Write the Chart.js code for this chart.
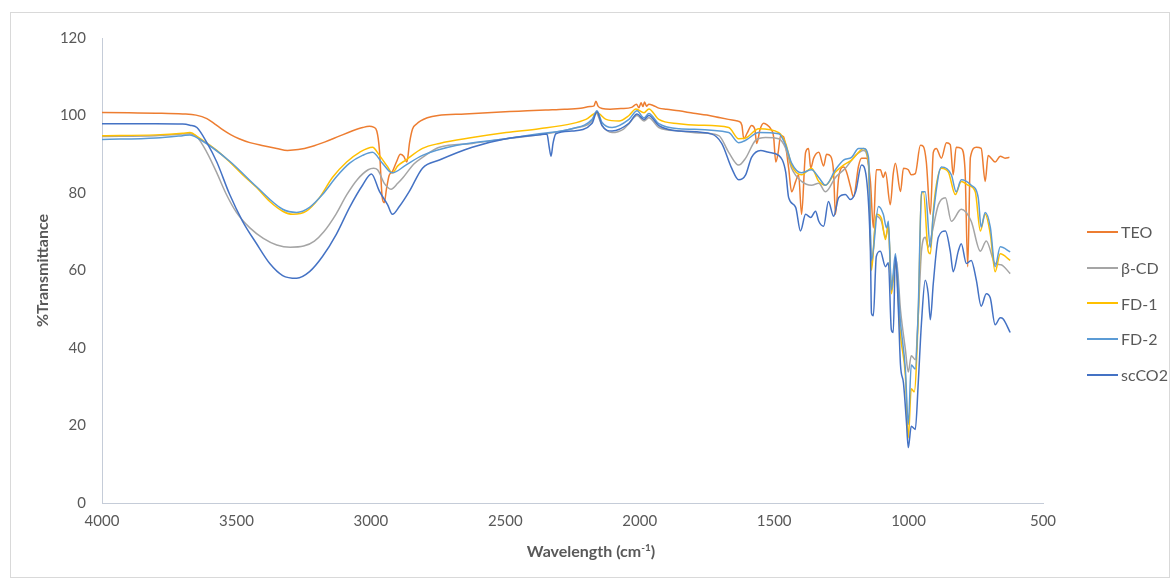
<!DOCTYPE html>
<html>
<head>
<meta charset="utf-8">
<script src="https://cdn.jsdelivr.net/npm/chart.js@4.4.1/dist/chart.umd.min.js"></script>
<style>
    body { margin: 0; background: #fff; font-family: Lato, "Open Sans", sans-serif; }
    #frame { position: absolute; left: 10px; top: 12px; width: 1160px; height: 566px; border: 1px solid #d9d9d9; box-sizing: border-box; }
    #wrap { position: absolute; left: 0; top: 0; width: 1158px; height: 564px; }
    #legend { position: absolute; left: 1076px; top: 201px; list-style: none; margin: 0; padding: 0; color: #595959; font-size: 16px; }
    #legend li { height: 35.7px; display: flex; align-items: center; }
    #legend .line { display: inline-block; width: 31px; height: 2px; margin-right: 3px; }
    #xTitle { position: absolute; left: 430px; width: 300px; top: 528px; text-align: center; color: #595959; font-size: 16px; font-weight: bold; line-height: 20px; }
    #xTitle sup { font-size: 10px; line-height: 0; }
</style>
</head>
<body>
<div id="frame">
    <div id="wrap"><canvas id="ftirChart"></canvas></div>
    <ul id="legend"></ul>
    <div id="xTitle">Wavelength (cm<sup>-1</sup>)</div>
</div>
<script>
// spectra: wavenumber (cm-1) and %T
const teoWn = [4000,3900,3800,3700,3650,3610,3580,3550,3520,3490,3450,3400,3350,3310,3270,3220,3170,3120,3070,3030,3005,2990,2978,2968,2958,2950,2942,2932,2920,2905,2890,2878,2866,2856,2845,2830,2815,2790,2750,2650,2550,2450,2350,2280,2220,2185,2170,2163,2155,2140,2110,2070,2030,2012,2003,1995,1988,1982,1975,1966,1950,1929,1900,1854,1800,1750,1700,1670,1645,1632,1620,1613,1600,1584,1572,1565,1552,1539,1525,1513,1502,1494,1485,1476,1465,1457,1446,1435,1420,1409,1398,1383,1372,1364,1353,1334,1316,1305,1290,1279,1272,1260,1242,1231,1216,1205,1186,1175,1157,1142,1131,1120,1105,1094,1086,1068,1057,1049,1030,1019,1001,990,975,956,945,934,919,908,897,878,859,845,834,823,804,790,780,770,748,730,715,704,693,678,659,641,625];
const teoT = [100.8,100.7,100.6,100.4,100.1,99.2,97.8,96.3,95,94,93,92.2,91.5,91,91.2,92,93.2,94.6,96,96.9,97.2,97,96,91,79,77.5,81,84.5,85.5,88,90,89.5,88,93,96.5,97.8,98.6,99.4,100,100.4,100.8,101.1,101.4,101.6,101.9,102.3,102.5,103.7,102.4,101.8,101.6,101.8,102.1,102.9,102,103.3,102.3,103.5,102.4,102.9,102.6,101.9,101.6,101.2,100.6,100.1,99.4,99,98.7,98.5,97.5,94,95.5,97.4,96.5,92.8,96.5,98,97.5,96.6,94.5,88,90.5,94.8,94.5,92,86.4,80.3,83,84.7,74.5,90.5,91.5,86.4,89,90.5,87,90,89.5,85.4,74.5,84,86.7,85.5,81.6,79,87,89,89,83,71,86,86,84,85.4,77,85,87.7,80.4,86.4,86,84.7,85,92.3,92,88,74.5,90.5,91.5,89,93,92.5,84.7,91.8,91.5,86,61,89.2,91.8,91.5,83,89.7,89,88,89.5,89,89.2];

const cdWn = [4000,3800,3700,3673,3647,3610,3575,3540,3500,3450,3400,3350,3300,3250,3210,3175,3130,3090,3050,3010,2990,2975,2950,2925,2900,2880,2840,2808,2745,2623,2497,2374,2252,2190,2177,2163,2140,2103,2060,2040,2010,1984,1966,1929,1854,1780,1706,1669,1632,1606,1569,1532,1483,1457,1435,1398,1361,1334,1309,1272,1235,1197,1168,1149,1138,1120,1101,1086,1075,1064,1045,1030,1012,1001,990,975,964,952,938,927,915,889,863,841,804,767,733,711,678,656,622];
const cdT = [94.6,94.8,95.2,95.3,94.5,90.5,85.5,80,75,71,68.3,66.6,66,66.3,67.6,70,74.5,79.5,83.5,86,86.4,86,82.5,81,82.5,84,87.5,89.2,91.8,92.8,94,95,96.6,97.8,98.6,100.7,97.4,95.6,96.5,97.9,100,98.6,99.4,96.9,96,95.5,94.8,90.5,87.2,89,93.6,94.3,94,91.5,86.4,83,82,82.5,80.3,84,86.4,89.7,91,87.2,61,74,72.7,68.6,71.2,56.7,62.6,49.8,39.7,33.8,38,37,48.3,65,68.6,66,69,77,78.8,72.7,75.8,72.7,65,67.6,61.8,61.5,59.2];

const fd1Wn = [4000,3800,3700,3673,3640,3573,3525,3477,3425,3376,3328,3290,3240,3191,3143,3090,3042,2994,2968,2940,2920,2900,2870,2808,2745,2623,2497,2374,2252,2200,2159,2125,2077,2040,2014,1984,1966,1929,1854,1780,1669,1632,1606,1557,1483,1457,1435,1398,1361,1334,1309,1272,1242,1212,1186,1168,1149,1138,1120,1101,1086,1075,1064,1049,1030,1012,1001,990,979,964,952,945,927,919,908,897,878,852,826,804,778,752,733,715,696,678,659,622];
const fd1T = [94.8,95,95.4,95.6,94.3,91,88,84.7,81.4,77.8,75.3,74.5,75.3,78.8,84,88,90.5,91.8,89.7,87,85.2,87,88.5,91.5,92.8,94.3,95.6,96.6,97.9,99,100.7,99,98.6,100,101.7,100.7,101.7,99,97.9,97.5,96.9,94,94.2,96.6,95.6,92.8,87.2,84.7,86.4,83,82,85.4,87.2,88.5,90.5,91.5,88,60,74.5,73.5,68,72,54,61.8,43.2,33,16.8,29.5,28.7,48.3,79.6,80.3,65,64.3,75.3,82,86.4,85.4,79.6,83,82,80.3,70.2,74.5,69.4,59.7,64.3,62.6];

const fd2Wn = [4000,3800,3700,3673,3640,3525,3425,3328,3276,3228,3180,3128,3079,3031,2994,2957,2920,2870,2808,2680,2497,2374,2252,2177,2159,2140,2103,2040,2010,1984,1966,1929,1854,1669,1632,1606,1557,1483,1457,1435,1398,1361,1334,1309,1272,1242,1212,1186,1168,1149,1138,1112,1094,1082,1075,1064,1049,1030,1012,1001,990,975,964,952,938,919,908,878,841,823,804,767,741,730,715,696,678,659,622];
const fd2T = [93.8,94.2,94.8,95,94,88.2,81.6,75.8,75,76.3,79.6,84.2,87.7,89.7,90.5,87.7,85.2,87.2,89.7,92.3,94,95.3,96.6,99,101.2,98.2,96.9,99,101.2,99.4,100.5,97.9,96.6,95.6,93,93.6,95.6,95.3,92.3,87.7,85.2,86,84,82,86,88.5,89.2,91.5,91.5,89.2,62.6,76.5,74.5,71,72.7,55,64.3,46.5,34.6,20.3,35.6,34.6,50,80.3,80.3,66,74.5,86.7,84.7,80.3,83.4,82,78.8,71.2,75,71.2,61,66.1,64.8];

const co2Wn = [4000,3800,3700,3673,3647,3610,3573,3525,3477,3425,3376,3328,3276,3228,3180,3128,3079,3031,2998,2968,2938,2920,2894,2857,2808,2745,2623,2497,2374,2345,2337,2330,2322,2312,2252,2177,2159,2140,2103,2040,2010,1984,1966,1929,1854,1732,1695,1658,1632,1606,1584,1550,1520,1483,1457,1446,1420,1402,1383,1364,1346,1334,1316,1298,1279,1260,1235,1216,1197,1175,1157,1142,1138,1131,1120,1105,1086,1075,1064,1057,1049,1038,1030,1019,1008,1001,990,975,964,952,938,927,919,908,889,863,845,834,815,804,785,767,748,730,711,696,678,659,648,622];
const co2T = [97.9,97.9,97.8,97.5,96.9,93,88,79.6,72.7,66.9,61.8,58.7,58,59.7,63.6,69.4,76.3,82,84.9,80.4,77,74.5,76.5,80.4,86.4,88.5,91.8,94,95,95.2,92,89.5,93,95.3,96,98,101,97.4,96,98,100.4,99,100,97.4,96,95.2,92.8,86.4,83.4,84.7,89.2,91,90.5,89.7,85.4,78.8,76.3,70.2,74.5,73.7,75.3,72.7,71.4,77.8,74,78.8,79.6,78.3,80.3,87.2,84,65,49,48.3,63.6,65,61,62,44.7,44,63.6,50,35.6,31,21,14.3,19.8,19,31,46.5,57.5,54,47.3,56.7,68.6,70.2,65,59.7,65,66.9,61.8,62.6,57.5,50.8,54,52.9,46,47.8,47.5,44];

const seriesNames = ['TEO', 'β-CD', 'FD-1', 'FD-2', 'scCO2'];
const seriesColors = ['#ED7D31', '#A5A5A5', '#FFC000', '#5B9BD5', '#4472C4'];
const seriesWn = [teoWn, cdWn, fd1Wn, fd2Wn, co2Wn];
const seriesT = [teoT, cdT, fd1T, fd2T, co2T];

const xTicks = [4000, 3500, 3000, 2500, 2000, 1500, 1000, 500];
const yTicks = [0, 20, 40, 60, 80, 100, 120];

Chart.defaults.font.family = 'Lato, "Open Sans", sans-serif';
Chart.defaults.color = '#595959';

function createChart() {
    var datasets = seriesNames.map(function (name, i) {
        return {
            label: name,
            data: seriesWn[i].map(function (w, j) { return { x: w, y: seriesT[i][j] }; }),
            borderColor: seriesColors[i],
            backgroundColor: seriesColors[i],
            borderWidth: 1.5,
            pointRadius: 0,
            cubicInterpolationMode: 'monotone',
            fill: false,
            order: seriesNames.length - i   // later series drawn on top, like the original
        };
    });

    var axisLine = { display: true, color: '#C5CCD8', width: 1 };

    var options = {
        responsive: true,
        maintainAspectRatio: false,
        animation: false,
        layout: { padding: { top: 18, right: 126, left: 0, bottom: 0 } },
        plugins: {
            legend: { display: false },
            tooltip: { enabled: false }
        },
        scales: {
            x: {
                type: 'linear',
                reverse: true,
                min: xTicks[xTicks.length - 1],
                max: xTicks[0],
                grid: { display: false, drawTicks: false },
                border: axisLine,
                afterBuildTicks: function (s) { s.ticks = xTicks.map(function (v) { return { value: v }; }); },
                ticks: {
                    padding: 9,
                    maxRotation: 0,
                    font: { size: 15 },
                    callback: function (v) { return String(v); }
                },
                // title is the #xTitle div (it sits a little right of centre in the original)
                title: { display: false },
                afterFit: function (s) { s.height = 74; }
            },
            y: {
                min: yTicks[0],
                max: yTicks[yTicks.length - 1],
                grid: { display: false, drawTicks: false },
                border: axisLine,
                afterBuildTicks: function (s) { s.ticks = yTicks.map(function (v) { return { value: v }; }); },
                ticks: {
                    padding: 16,
                    font: { size: 15 },
                    callback: function (v) { return String(v); }
                },
                title: {
                    display: true,
                    text: '%Transmittance',
                    font: { size: 16, weight: 'bold' },
                    padding: { top: 22, bottom: 0 }
                },
                afterFit: function (s) { s.width = 91; }
            }
        }
    };

    var ctx = document.getElementById('ftirChart').getContext('2d');
    new Chart(ctx, { type: 'line', data: { datasets: datasets }, options: options });

    // legend on the right, as plain text
    var legend = document.getElementById('legend');
    seriesNames.forEach(function (name, i) {
        var li = document.createElement('li');
        var line = document.createElement('span');
        line.className = 'line';
        line.style.background = seriesColors[i];
        li.appendChild(line);
        li.appendChild(document.createTextNode(name));
        legend.appendChild(li);
    });
}

document.addEventListener("DOMContentLoaded", function () {
    createChart();
});
</script>
</body>
</html>
